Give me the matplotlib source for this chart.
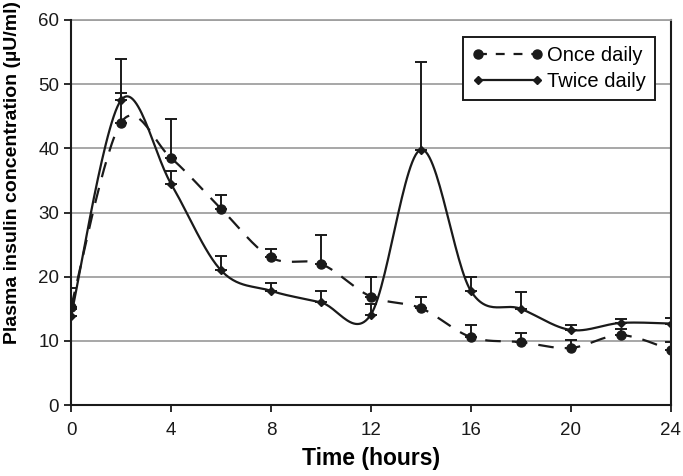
import numpy as np
import matplotlib

matplotlib.use("Agg")
import matplotlib.pyplot as plt
from matplotlib.lines import Line2D

plt.rcParams["font.family"] = ["Liberation Sans", "DejaVu Sans"]

# ── data ──
hours = [0, 2, 4, 6, 8, 10, 12, 14, 16, 18, 20, 22, 24]
once_mean = [15.3, 44.0, 38.5, 30.6, 23.0, 22.0, 16.9, 15.1, 10.6, 9.8, 8.9, 10.9, 8.6]
once_err = [3.0, 4.6, 6.0, 2.2, 1.3, 4.5, 3.1, 1.7, 1.8, 1.4, 1.2, 1.0, 1.3]
twice_mean = [13.9, 47.5, 34.5, 21.0, 17.8, 16.0, 14.1, 39.8, 17.8, 15.0, 11.7, 12.8, 12.7]
twice_err = [1.0, 6.5, 1.9, 2.2, 1.2, 1.8, 1.7, 13.7, 2.2, 2.6, 0.8, 0.6, 0.8]
y_ticks = [0, 10, 20, 30, 40, 50, 60]
x_ticks = [0, 4, 8, 12, 16, 20, 24]


def smooth(x, y, n=30):
    # Excel-style smoothed line (Catmull-Rom through the points)
    x = np.asarray(x, float)
    y = np.asarray(y, float)
    px = np.concatenate([[x[0]], x, [x[-1]]])
    py = np.concatenate([[y[0]], y, [y[-1]]])
    xs, ys = [], []
    t = np.linspace(0, 1, n)
    for i in range(1, len(px) - 2):
        p0 = np.array([px[i], py[i]])
        p3 = np.array([px[i + 1], py[i + 1]])
        c1 = p0 + (np.array([px[i + 1], py[i + 1]]) - np.array([px[i - 1], py[i - 1]])) / 6
        c2 = p3 - (np.array([px[i + 2], py[i + 2]]) - np.array([px[i], py[i]])) / 6
        b = ((1 - t) ** 3)[:, None] * p0 + (3 * (1 - t) ** 2 * t)[:, None] * c1 \
            + (3 * (1 - t) * t ** 2)[:, None] * c2 + (t ** 3)[:, None] * p3
        xs.extend(b[:, 0])
        ys.extend(b[:, 1])
    return xs, ys


fig = plt.figure(figsize=(6.83, 4.76), dpi=100)
ax = fig.add_axes([0.104, 0.149, 0.878, 0.809])

for v in y_ticks[1:]:
    ax.axhline(v, color="#a0a0a0", lw=1.3, zorder=0)

# once daily
sx, sy = smooth(hours, once_mean)
ax.plot(sx, sy, color="#1a1a1a", lw=1.6, dashes=(7, 5), zorder=2)
ax.errorbar(hours, once_mean, yerr=[np.zeros(len(once_err)), once_err],
            fmt="o", ms=6.5, color="#1a1a1a", ecolor="#1a1a1a",
            elinewidth=1.4, capsize=4, capthick=1.4, zorder=3)

# twice daily
sx, sy = smooth(hours, twice_mean)
ax.plot(sx, sy, color="#1a1a1a", lw=1.6, zorder=2)
ax.errorbar(hours, twice_mean, yerr=[np.zeros(len(twice_err)), twice_err],
            fmt="D", ms=4.5, color="#1a1a1a", ecolor="#1a1a1a",
            elinewidth=1.4, capsize=4, capthick=1.4, zorder=3)

ax.set_xlim(0, 24)
ax.set_ylim(0, 60)
ax.set_xticks(x_ticks)
ax.set_yticks(y_ticks)
ax.tick_params(direction="out", length=5, width=1.3, labelsize=13.5,
               colors="#1a1a1a")
ax.tick_params(axis="x", pad=7)
for s in ["left", "bottom", "right"]:
    ax.spines[s].set_linewidth(1.5)
    ax.spines[s].set_color("#1a1a1a")
ax.spines["top"].set_color("#a0a0a0")
ax.spines["top"].set_linewidth(1.3)
ax.spines["left"].set_zorder(4)

ax.set_xlabel("Time (hours)", fontsize=16.5, fontweight="bold", labelpad=6)
ax.set_ylabel("Plasma insulin concentration (µU/ml)", fontsize=14,
              fontweight="bold")
ax.yaxis.set_label_coords(-0.084, 0.605)

handles = [
    Line2D([], [], color="#1a1a1a", lw=1.6, dashes=(4, 4), marker="o", ms=6.5),
    Line2D([], [], color="#1a1a1a", lw=1.6, marker="D", ms=4.5),
]
leg = ax.legend(handles, ["Once daily", "Twice daily"], loc="upper right",
                bbox_to_anchor=(0.973, 0.956), fontsize=14.5, frameon=True,
                fancybox=False, edgecolor="#1a1a1a", framealpha=1,
                handlelength=3.5, numpoints=2, borderpad=0.45,
                labelspacing=0.35, handletextpad=0.2, borderaxespad=0)
leg.get_frame().set_linewidth(1.4)

fig.savefig("out.png", dpi=100, facecolor="white")
